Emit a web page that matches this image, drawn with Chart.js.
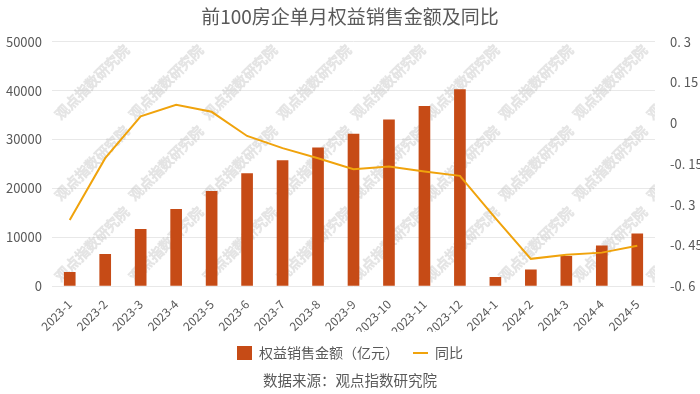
<!DOCTYPE html>
<html>
<head>
<meta charset="utf-8">
<script src="https://cdn.jsdelivr.net/npm/chart.js@4.4.1/dist/chart.umd.min.js"></script>
<style>
  html, body { margin: 0; padding: 0; background: #fff; }
  .wrap { width: 700px; height: 394px; position: relative; }
</style>
</head>
<body>
<div class="wrap"><canvas id="chart"></canvas></div>
<script>
// data
const months = ["2023-1", "2023-2", "2023-3", "2023-4", "2023-5", "2023-6", "2023-7", "2023-8", "2023-9",
  "2023-10", "2023-11", "2023-12", "2024-1", "2024-2", "2024-3", "2024-4", "2024-5"];
const sales = [2800, 6500, 11600, 15700, 19400, 23000, 25700, 28300, 31100,
  34000, 36800, 40200, 1800, 3300, 6100, 8200, 10700];
const yoy = [-0.357, -0.129, 0.025, 0.068, 0.042, -0.047, -0.092, -0.129, -0.17,
  -0.16, -0.178, -0.194, -0.35, -0.5, -0.485, -0.477, -0.452];
const leftTicks = [0, 10000, 20000, 30000, 40000, 50000];
const rightTicks = [-0.6, -0.45, -0.3, -0.15, 0, 0.15, 0.3];

const FONT = '"Noto Sans CJK SC", "Noto Sans", sans-serif';
const GREY = '#595959';

// faint diagonal watermark behind the marks
const watermark = {
  id: 'watermark',
  beforeDatasetsDraw(chart) {
    const { ctx, chartArea } = chart;
    ctx.save();
    ctx.beginPath();
    ctx.rect(chartArea.left, chartArea.top, chartArea.right - chartArea.left, chartArea.bottom - chartArea.top);
    ctx.clip();
    ctx.font = '14px ' + FONT;
    ctx.strokeStyle = 'rgba(185,185,185,0.38)';
    ctx.lineWidth = 1;
    ctx.textAlign = 'center';
    ctx.textBaseline = 'middle';
    [2, 82, 163, 244].forEach((y) => {
      for (let x = 92; x < 700; x += 74) {
        ctx.save();
        ctx.translate(x, y);
        ctx.rotate(-Math.PI / 4);
        ctx.strokeText('观点指数研究院', 0, 0);
        ctx.restore();
      }
    });
    ctx.restore();
  }
};

// source line under the legend
const source = {
  id: 'source',
  afterDraw(chart) {
    const { ctx } = chart;
    ctx.save();
    ctx.font = '14.5px ' + FONT;
    ctx.fillStyle = GREY;
    ctx.textAlign = 'center';
    ctx.textBaseline = 'middle';
    ctx.fillText('数据来源：观点指数研究院', chart.width / 2, 380);
    ctx.restore();
  }
};

new Chart(document.getElementById('chart'), {
  data: {
    labels: months,
    datasets: [
      {
        type: 'line',
        label: '同比',
        data: yoy,
        yAxisID: 'y1',
        borderColor: '#F0A30C',
        backgroundColor: '#F0A30C',
        borderWidth: 2,
        pointRadius: 0,
        pointStyle: 'line',
        tension: 0,
        order: 0
      },
      {
        type: 'bar',
        label: '权益销售金额（亿元）',
        data: sales,
        yAxisID: 'y',
        backgroundColor: '#C64B16',
        barThickness: 11,
        pointStyle: 'rect',
        order: 1
      }
    ]
  },
  options: {
    responsive: true,
    maintainAspectRatio: false,
    animation: false,
    layout: { padding: { left: 0, right: 0, top: 2, bottom: 24 } },
    scales: {
      x: {
        grid: { display: false },
        border: { display: false },
        afterFit: (axis) => { axis.height = 46; },
        ticks: {
          color: GREY,
          font: { family: FONT, size: 12 },
          maxRotation: 45,
          minRotation: 45,
          autoSkip: false
        }
      },
      y: {
        position: 'left',
        min: 0,
        max: 50000,
        afterBuildTicks: (axis) => { axis.ticks = leftTicks.map((v) => ({ value: v })); },
        afterFit: (axis) => { axis.width = 52; },
        grid: { color: '#E8E8E8', drawTicks: false },
        border: { display: false },
        ticks: {
          color: GREY,
          font: { family: FONT, size: 13 },
          padding: 10,
          callback: (v) => String(v)
        }
      },
      y1: {
        position: 'right',
        min: -0.6,
        max: 0.3,
        afterBuildTicks: (axis) => { axis.ticks = rightTicks.map((v) => ({ value: v })); },
        afterFit: (axis) => { axis.width = 45; },
        grid: { display: false },
        border: { display: false },
        ticks: {
          color: GREY,
          font: { family: FONT, size: 13 },
          padding: 7,
          callback: (v) => String(Math.round(v * 100) / 100).replace('.', '. ')
        }
      }
    },
    plugins: {
      title: {
        display: true,
        text: '前100房企单月权益销售金额及同比',
        color: GREY,
        font: { family: FONT, size: 19, weight: 'normal' },
        padding: { top: 3, bottom: 14 }
      },
      legend: {
        position: 'bottom',
        labels: {
          color: GREY,
          font: { family: FONT, size: 14 },
          usePointStyle: true,
          pointStyleWidth: 15,
          padding: 14,
          sort: (a, b) => b.datasetIndex - a.datasetIndex
        }
      },
      tooltip: { enabled: false }
    }
  },
  plugins: [watermark, source]
});
</script>
</body>
</html>
